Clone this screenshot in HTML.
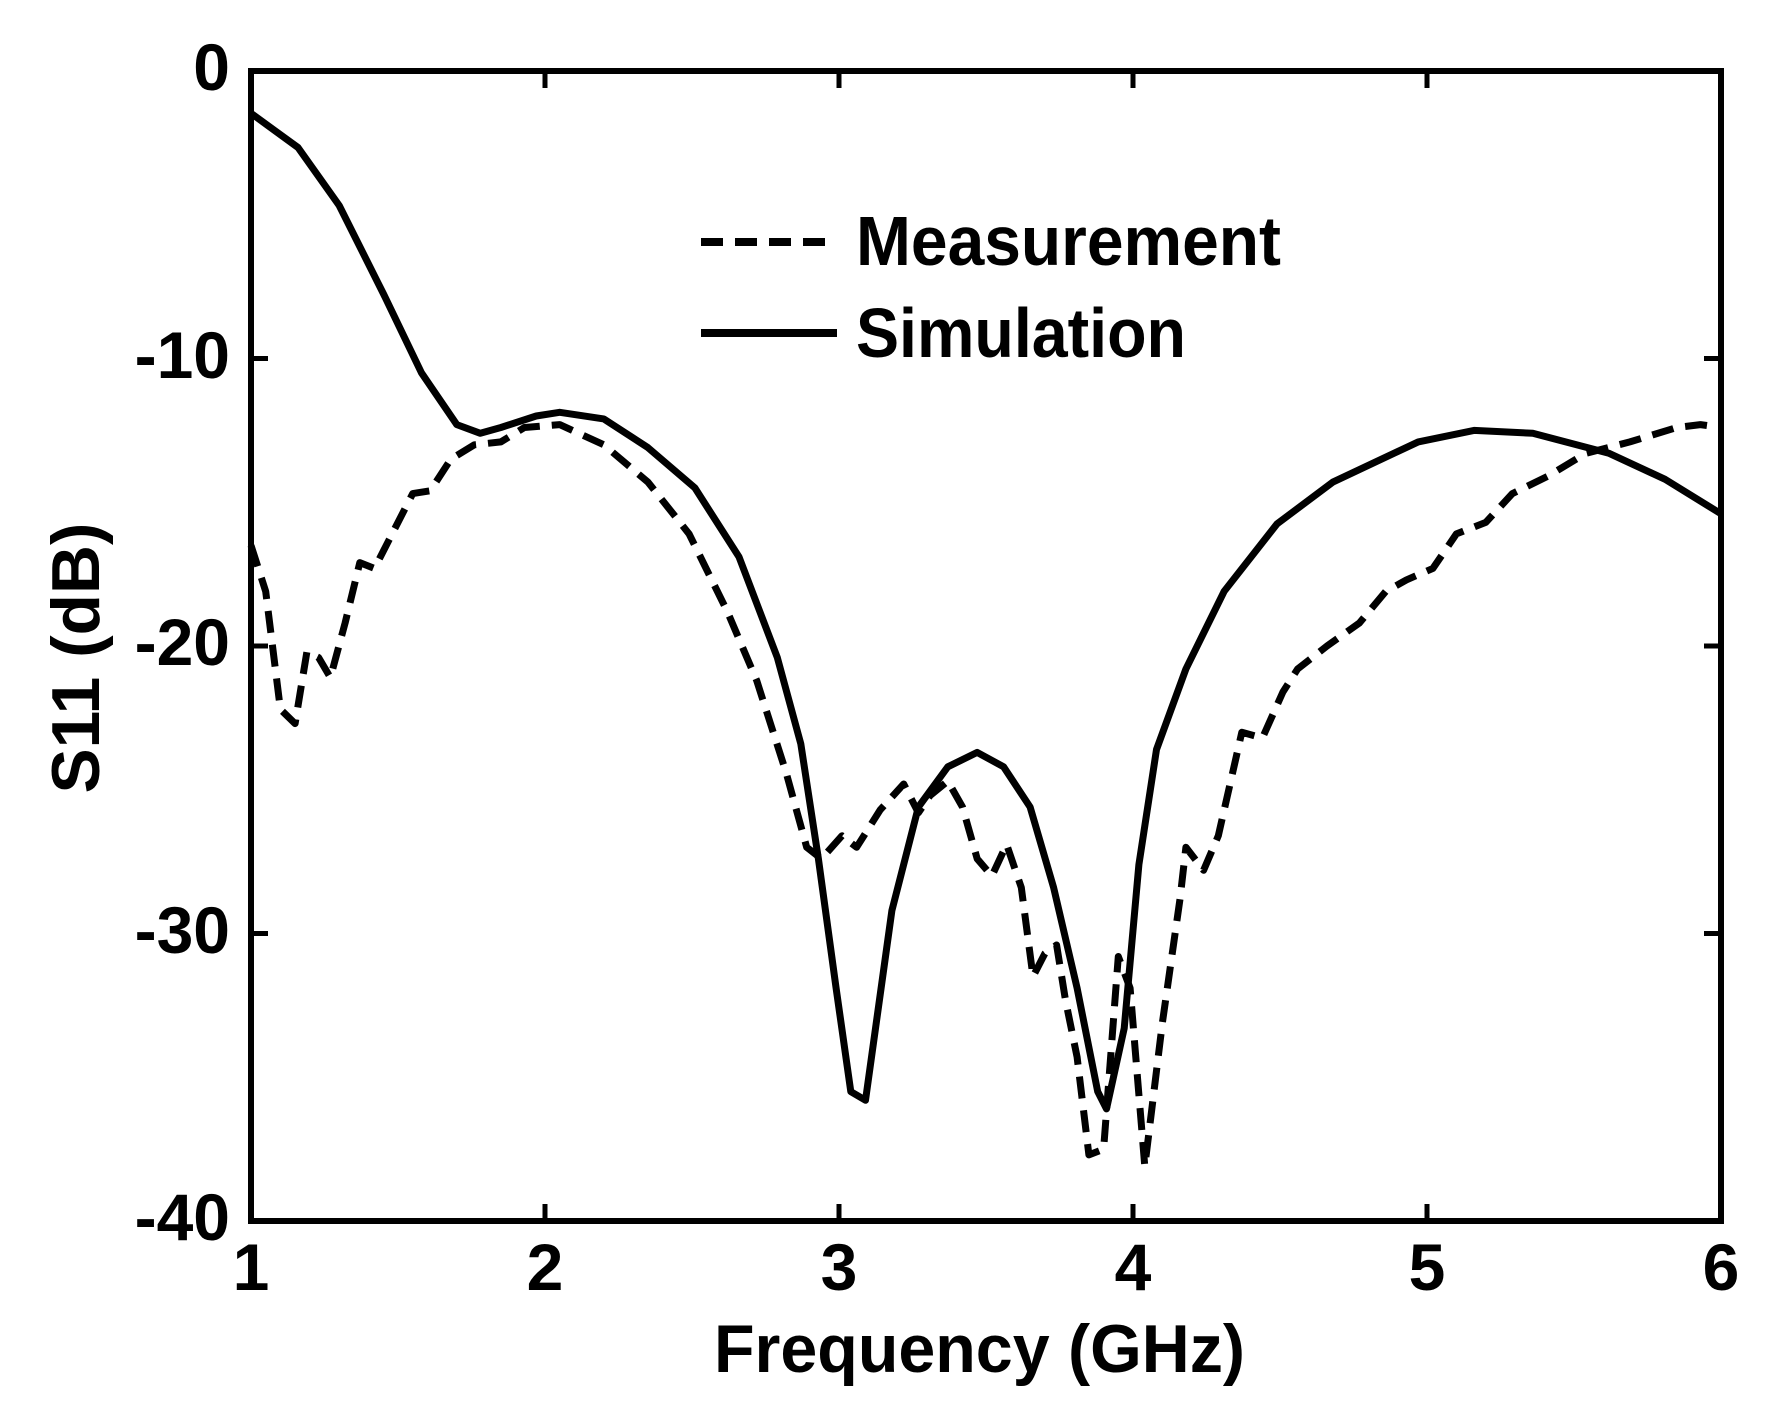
<!DOCTYPE html>
<html><head><meta charset="utf-8"><style>
html,body{margin:0;padding:0;background:#fff;}
svg{display:block;}
text{font-family:"Liberation Sans",Arial,sans-serif;font-weight:bold;fill:#000;}
</style></head><body>
<svg id="s" width="1778" height="1421" viewBox="0 0 1778 1421" xmlns="http://www.w3.org/2000/svg">
<rect width="1778" height="1421" fill="#fff"/>
<g id="ticks" stroke="#000" stroke-width="5"></g>
<rect x="251" y="71" width="1470" height="1150" fill="none" stroke="#000" stroke-width="6"/>
<g font-size="66" text-anchor="end">
<text x="230" y="90">0</text>
<text x="230" y="378">-10</text>
<text x="230" y="665">-20</text>
<text x="230" y="953">-30</text>
<text x="230" y="1240">-40</text>
</g>
<g font-size="66" text-anchor="middle">
<text x="251" y="1290">1</text>
<text x="545" y="1290">2</text>
<text x="839" y="1290">3</text>
<text x="1133" y="1290">4</text>
<text x="1427" y="1290">5</text>
<text x="1721" y="1290">6</text>
</g>
<text x="714" y="1372" font-size="68" textLength="531" lengthAdjust="spacingAndGlyphs">Frequency (GHz)</text>
<text transform="translate(99,658) rotate(-90)" font-size="68" text-anchor="middle" textLength="271" lengthAdjust="spacingAndGlyphs">S11 (dB)</text>
<line x1="701" y1="242" x2="837" y2="242" stroke="#000" stroke-width="8" stroke-dasharray="22,12"/>
<line x1="701" y1="333" x2="837" y2="333" stroke="#000" stroke-width="8"/>
<text x="856" y="265" font-size="70" textLength="425" lengthAdjust="spacingAndGlyphs">Measurement</text>
<text x="856" y="357" font-size="70" textLength="330" lengthAdjust="spacingAndGlyphs">Simulation</text>
<path id="sim" fill="none" stroke="#000" stroke-width="7" stroke-linejoin="round"/>
<path id="meas" fill="none" stroke="#000" stroke-width="7" stroke-dasharray="22,12" stroke-linejoin="round"/>
</svg>
<script>
function X(f){return 251+(f-1)*294;}
function Y(d){return 71-d*28.75;}
var sim=[[1,-1.47],[1.16,-2.66],[1.30,-4.68],[1.45,-7.74],[1.58,-10.5],[1.70,-12.3],[1.78,-12.6],[1.85,-12.4],[1.97,-12.0],[2.05,-11.87],[2.2,-12.1],[2.35,-13.1],[2.51,-14.5],[2.66,-16.9],[2.79,-20.4],[2.87,-23.4],[2.93,-27.4],[2.99,-31.9],[3.04,-35.5],[3.09,-35.8],[3.18,-29.2],[3.27,-25.6],[3.37,-24.2],[3.47,-23.7],[3.56,-24.2],[3.65,-25.6],[3.73,-28.4],[3.81,-31.9],[3.88,-35.5],[3.91,-36.1],[3.97,-33.3],[4.02,-27.6],[4.08,-23.6],[4.18,-20.8],[4.31,-18.1],[4.49,-15.75],[4.68,-14.3],[4.97,-12.9],[5.16,-12.5],[5.36,-12.6],[5.62,-13.3],[5.81,-14.2],[6.0,-15.4]];
var meas=[[1,-16.5],[1.05,-18.1],[1.10,-22.2],[1.15,-22.7],[1.19,-20.2],[1.23,-20.4],[1.27,-21.1],[1.32,-19.2],[1.37,-17.1],[1.42,-17.3],[1.48,-16.1],[1.55,-14.7],[1.61,-14.6],[1.68,-13.5],[1.76,-13.0],[1.85,-12.9],[1.93,-12.4],[2.05,-12.3],[2.2,-13.0],[2.35,-14.3],[2.49,-16.1],[2.62,-18.8],[2.72,-21.2],[2.82,-24.4],[2.89,-27.0],[2.94,-27.4],[3.01,-26.6],[3.06,-27.0],[3.14,-25.7],[3.22,-24.8],[3.27,-25.8],[3.31,-25.2],[3.37,-24.7],[3.42,-25.6],[3.47,-27.4],[3.52,-28.0],[3.57,-26.9],[3.62,-28.4],[3.66,-31.5],[3.70,-30.7],[3.74,-30.4],[3.77,-32.3],[3.81,-34.3],[3.85,-37.7],[3.90,-37.5],[3.95,-30.8],[3.99,-31.9],[4.04,-38.1],[4.10,-33.1],[4.16,-28.8],[4.18,-27.0],[4.24,-27.8],[4.29,-26.6],[4.37,-23.0],[4.44,-23.2],[4.51,-21.6],[4.56,-20.8],[4.66,-20.0],[4.77,-19.2],[4.86,-18.1],[4.93,-17.7],[5.02,-17.3],[5.10,-16.1],[5.20,-15.7],[5.29,-14.7],[5.41,-14.1],[5.54,-13.3],[5.69,-12.9],[5.85,-12.4],[5.93,-12.3],[6.0,-12.4]];
function d(a){return a.map(function(p,i){return (i?'L':'M')+X(p[0]).toFixed(1)+' '+Y(p[1]).toFixed(1);}).join(' ');}
document.getElementById('sim').setAttribute('d',d(sim));
document.getElementById('meas').setAttribute('d',d(meas));
var t='';
for(var f=2;f<=5;f++){var x=X(f);t+='<line x1="'+x+'" y1="1221" x2="'+x+'" y2="1204"/><line x1="'+x+'" y1="71" x2="'+x+'" y2="88"/>';}
for(var v=-10;v>=-30;v-=10){var y=Y(v);t+='<line x1="251" y1="'+y+'" x2="268" y2="'+y+'"/><line x1="1721" y1="'+y+'" x2="1704" y2="'+y+'"/>';}
document.getElementById('ticks').innerHTML=t;
</script>
</body></html>
